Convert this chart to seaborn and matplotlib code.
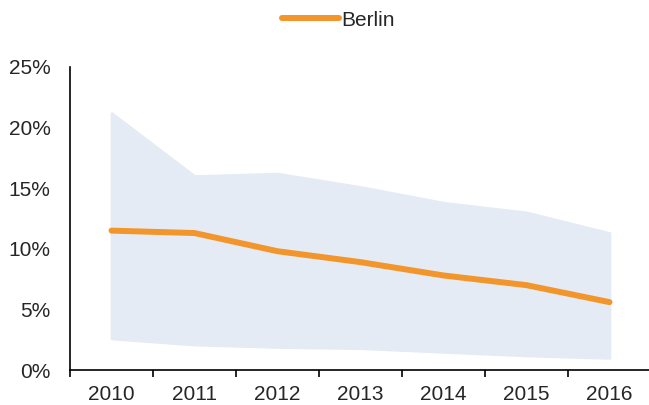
import numpy as np
import pandas as pd
import matplotlib
matplotlib.use("Agg")
import matplotlib.pyplot as plt
import seaborn as sns
from matplotlib.ticker import FuncFormatter

# data
years = ["2010", "2011", "2012", "2013", "2014", "2015", "2016"]
berlin = [11.5, 11.3, 9.8, 8.9, 7.8, 7.0, 5.6]
band_high = [21.2, 16.0, 16.2, 15.1, 13.8, 13.0, 11.3]
band_low = [2.6, 2.1, 1.9, 1.8, 1.5, 1.2, 1.0]

sns.set_style("white")
plt.rcParams["font.family"] = ["Liberation Sans", "DejaVu Sans"]

df = pd.DataFrame({"year": years, "value": berlin})
pos = np.arange(len(years))

fig = plt.figure(figsize=(6.49, 4.05), dpi=100)
ax = fig.add_axes([70 / 649, 1 - 370 / 405, 581 / 649, 303 / 405])

ax.fill_between(pos, band_low, band_high, color="#e5ebf4", linewidth=2,
                edgecolor="#e5ebf4", capstyle="round", joinstyle="round", zorder=1)
sns.lineplot(data=df, x=pos, y="value", ax=ax, color="#f2962b", linewidth=4.3,
             solid_capstyle="round", label="Berlin", zorder=3)

ax.set_xlim(-0.5, len(years) - 0.5)
ax.set_ylim(0, 25)
ax.set_yticks([0, 5, 10, 15, 20, 25])
ax.yaxis.set_major_formatter(FuncFormatter(lambda v, _: f"{v:.0f}%"))

# year labels centred, tick marks on the boundaries
ax.set_xticks(pos)
ax.set_xticklabels(years)
ax.set_xticks(np.arange(len(years) + 1) - 0.5, minor=True)
ax.tick_params(axis="x", which="major", length=0, pad=11, labelsize=15)
ax.tick_params(axis="x", which="minor", length=5, width=1.2, color="black",
               direction="out", bottom=True)
ax.tick_params(axis="y", length=0, pad=14, labelsize=15)

ax.set_xlabel("")
ax.set_ylabel("")
sns.despine(ax=ax)
for side in ["left", "bottom"]:
    ax.spines[side].set_color("black")
    ax.spines[side].set_linewidth(1.2)

ax.get_legend().remove()
handles, labels = ax.get_legend_handles_labels()
fig.legend(handles, labels, loc="upper center", bbox_to_anchor=(0.522, 1.02),
           frameon=False, fontsize=15, handlelength=2.7, handletextpad=0.15)

fig.savefig("out.png", dpi=100)
